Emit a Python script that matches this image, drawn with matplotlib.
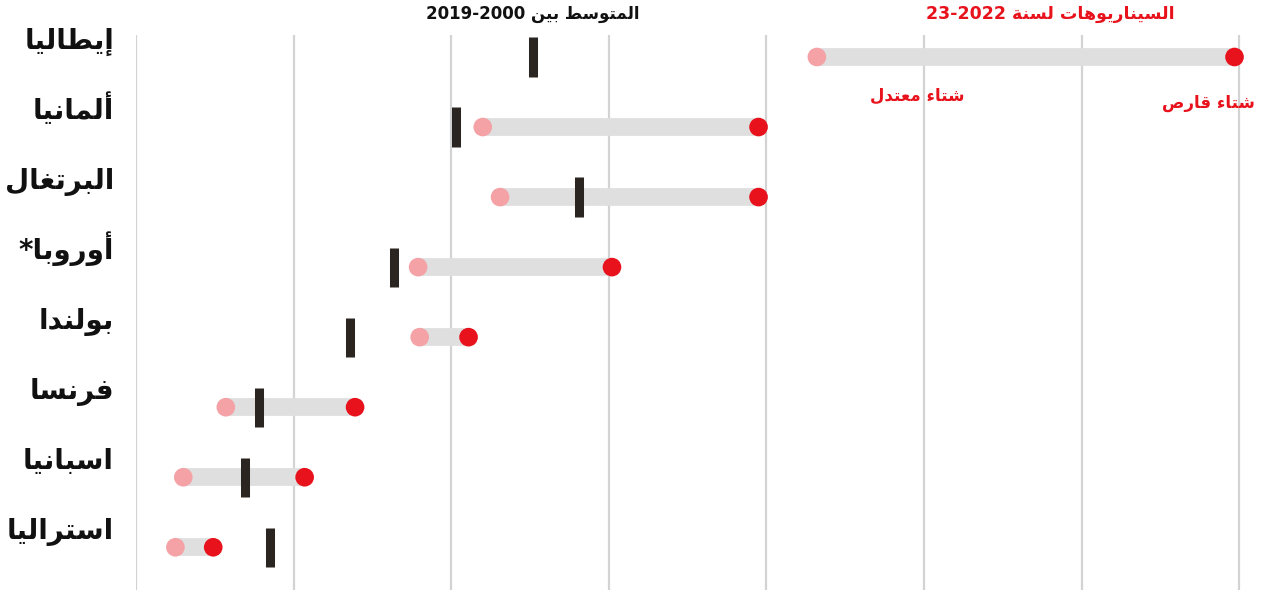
import matplotlib
matplotlib.use('Agg')
import matplotlib.pyplot as plt

# gas storage scenarios, one row per country (top to bottom)
countries = ['إيطاليا', 'ألمانيا', 'البرتغال', 'أوروبا*', 'بولندا', 'فرنسا', 'اسبانيا', 'استراليا']
mild = [43.2, 22.0, 23.1, 17.9, 18.0, 5.7, 3.0, 2.5]
harsh = [69.7, 39.5, 39.5, 30.2, 21.1, 13.9, 10.7, 4.9]
avg_2000_2019 = [25.2, 20.3, 28.1, 16.4, 13.6, 7.8, 6.9, 8.5]
grid_vals = [0, 10, 20, 30, 40, 50, 60, 70]

# --- tiny arabic shaper: matplotlib draws glyphs left to right without joining ---
DUAL = {'ب': 0xFE8F, 'ت': 0xFE95, 'س': 0xFEB1, 'ش': 0xFEB5, 'ص': 0xFEB9, 'ط': 0xFEC1,
        'ع': 0xFEC9, 'غ': 0xFECD, 'ف': 0xFED1, 'ق': 0xFED5, 'ل': 0xFEDD, 'م': 0xFEE1,
        'ن': 0xFEE5, 'ه': 0xFEE9, 'ي': 0xFEF1}
RIGHT = {'ا': 0xFE8D, 'أ': 0xFE83, 'إ': 0xFE87, 'ة': 0xFE93, 'د': 0xFEA9, 'ر': 0xFEAD,
         'و': 0xFEED}
NONE = {'ء': 0xFE80}


def shape(word):
    out = []
    for i, ch in enumerate(word):
        prev = word[i - 1] if i > 0 else ''
        nxt = word[i + 1] if i + 1 < len(word) else ''
        join_prev = prev in DUAL
        if ch in DUAL:
            join_next = nxt in DUAL or nxt in RIGHT
            base = DUAL[ch]
            if join_prev and join_next:
                out.append(chr(base + 3))
            elif join_prev:
                out.append(chr(base + 1))
            elif join_next:
                out.append(chr(base + 2))
            else:
                out.append(chr(base))
        elif ch in RIGHT:
            out.append(chr(RIGHT[ch] + (1 if join_prev else 0)))
        elif ch in NONE:
            out.append(chr(NONE[ch]))
        else:
            out.append(ch)
    return ''.join(out)


def ar(text):
    # shape and put in visual (left to right) order
    return shape(text)[::-1]


def label(name):
    if name.endswith('*'):
        return '*' + ar(name[:-1])
    return ar(name)


plt.rcParams['font.family'] = ['DejaVu Sans']

fig = plt.figure(figsize=(12.61, 5.94), dpi=100)
ax = fig.add_axes([136 / 1261, 4 / 594, 1125 / 1261, 555 / 594])

rows = list(range(len(countries)))
ax.set_xlim(0, 71.38)
ax.set_ylim(7.61, -0.314)

for g in grid_vals:
    ax.axvline(g, color='#d3d3d3', lw=1.6, zorder=0)

ax.hlines(rows, mild, harsh, color='#dfdfdf', lw=12.8, zorder=1)
ax.vlines(avg_2000_2019, [r - 0.28 for r in rows], [r + 0.28 for r in rows],
          color='#2a2520', lw=6.5, zorder=2)
ax.scatter(mild, rows, s=180, color='#f4a2a5', edgecolors='none', zorder=3)
ax.scatter(harsh, rows, s=180, color='#e8121c', edgecolors='none', zorder=3)

for r, name in zip(rows, countries):
    ax.text(-1.4, r - 0.12, label(name), ha='right', va='baseline',
            fontsize=20, fontweight='bold', color='#111111')

ax.text(avg_2000_2019[0], -0.61, '2019-2000 ' + ar('المتوسط بين'), ha='center', va='center',
        fontsize=12, fontweight='bold', color='#111111')
ax.text(58.0, -0.61, '23-2022 ' + ar('السيناريوهات لسنة'), ha='center', va='center',
        fontsize=12.5, fontweight='bold', color='#e8121c')
ax.text(49.6, 0.56, ar('شتاء معتدل'), ha='center', va='center',
        fontsize=12, fontweight='bold', color='#e8121c')
ax.text(71.0, 0.65, ar('شتاء قارص'), ha='right', va='center',
        fontsize=12, fontweight='bold', color='#e8121c')

ax.axis('off')

fig.savefig('out.png', dpi=100)
